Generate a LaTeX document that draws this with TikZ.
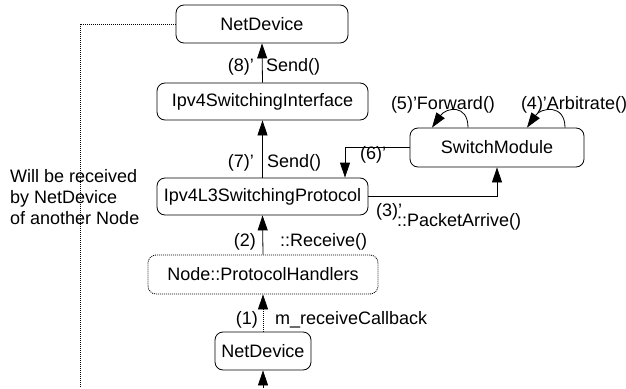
\documentclass[tikz,border=0pt]{standalone}
\usepackage{fontspec}
\setmainfont{Liberation Sans}
\usetikzlibrary{arrows.meta}

\tikzset{
  block/.style={draw, rounded corners=8pt, minimum height=38pt, inner sep=2pt, line width=0.8pt},
  dblock/.style={block, dash pattern=on 1pt off 1pt},
  arr/.style={-{Triangle[length=15pt,width=10pt]}, line width=0.8pt},
  darr/.style={arr, dash pattern=on 1pt off 1pt},
  dotline/.style={dash pattern=on 1pt off 1pt, line width=0.8pt},
  lbl/.style={inner sep=0pt}
}

\begin{document}
\begin{tikzpicture}[x=1pt,y=-1pt,font=\fontsize{18}{21}\selectfont]
          \useasboundingbox (0,0) rectangle (626,388);

          % boxes
          \node[block,minimum width=172pt] (ndtop) at (262,24) {NetDevice};
          \node[block,minimum width=211pt,minimum height=37pt] (sif) at (262.5,101.5) {Ipv4SwitchingInterface};
          \node[block,minimum width=211pt,minimum height=37pt] (l3) at (262.5,196.5) {Ipv4L3SwitchingProtocol};
          \node[block,minimum width=174pt,minimum height=39pt] (sm) at (497,147.5) {SwitchModule};
          \node[dblock,minimum width=230pt,minimum height=39pt] (ph) at (263,274.5) {Node::ProtocolHandlers};
          \node[block,minimum width=96pt] (ndbot) at (263,351) {NetDevice};

          \coordinate (inbot) at (263,388);
          \coordinate (outcorner) at (80,24);
          \coordinate (outbot) at (80,388);

          % calls
          \draw[arr] (inbot) -- (ndbot.south);
          \draw[darr] (ndbot.north) -- (ph.south);
          \draw[arr] (ph.north) -- (l3.south);
          \draw[arr] (l3.east) -| (sm.south);
          \draw[arr] ([xshift=-29pt]sm.north) .. controls +(0,-24) and +(14,-20) .. ([xshift=-65pt]sm.north);
          \draw[arr] ([xshift=68pt]sm.north) .. controls +(0,-24) and +(14,-20) .. ([xshift=30pt]sm.north);
          \draw[arr] (sm.west) -| ([xshift=82.5pt]l3.north);
          \draw[arr] (l3.north) -- (sif.south);
          \draw[arr] (sif.north) -- (ndtop.south);

          % to the other node
          \draw[dotline] (ndtop.west) -- (outcorner) -- (outbot);

          % labels
          \node[lbl,anchor=east] (l8) at (254,67) {(8)'};
          \node[lbl,anchor=west] (s8) at (266,67) {Send()};
          \node[lbl,anchor=east] (l7) at (254,163) {(7)'};
          \node[lbl,anchor=west] (s7) at (267,163) {Send()};
          \node[lbl] (l6) at (373,155) {(6)'};
          \node[lbl] (l5) at (443,105) {(5)'Forward()};
          \node[lbl] (l4) at (574,105) {(4)'Arbitrate()};
          \node[lbl] (l3n) at (389,212) {(3)'};
          \node[lbl,anchor=west] (s3) at (397,222) {::PacketArrive()};
          \node[lbl,anchor=east] (l2) at (256,242) {(2)};
          \node[lbl,anchor=west] (s2) at (280,242) {::Receive()};
          \node[lbl,anchor=east] (l1) at (258,320) {(1)};
          \node[lbl,anchor=west] (s1) at (275,320) {m\_receiveCallback};
          \node[lbl,anchor=west,align=left] (note) at (10,197) {Will be received\\by NetDevice\\of another Node};
\end{tikzpicture}
\end{document}
